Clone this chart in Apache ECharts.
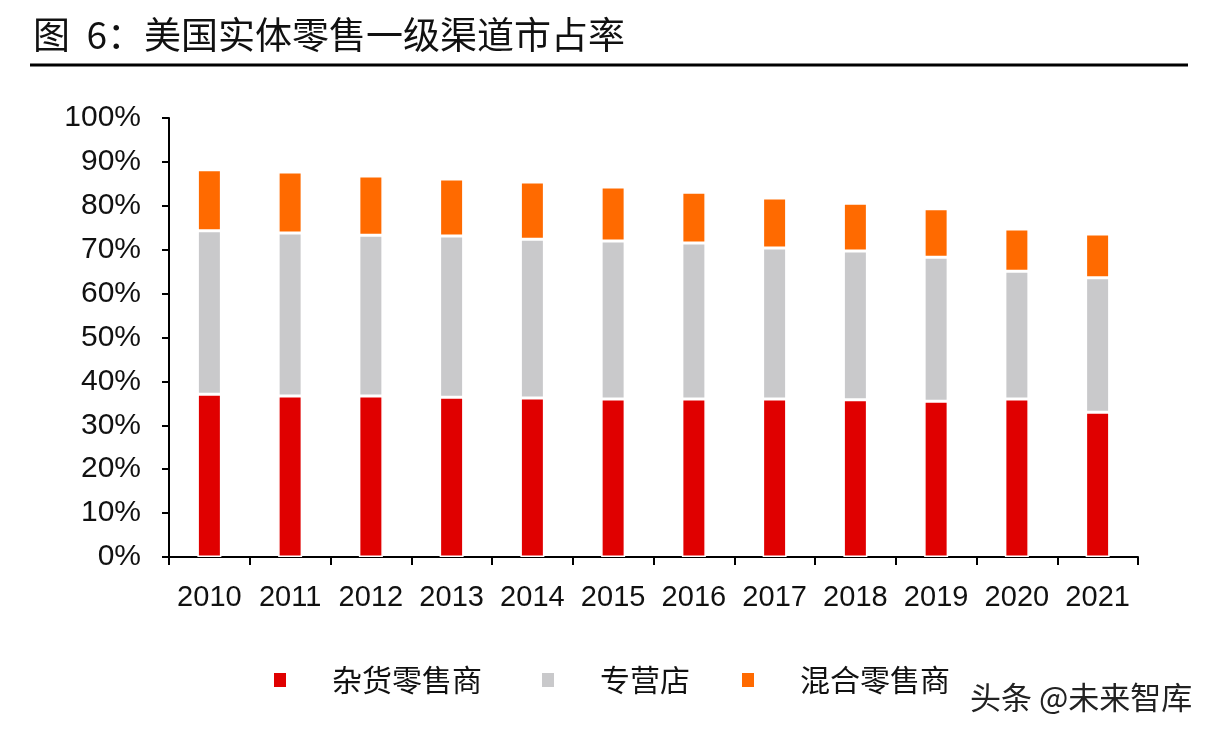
<!DOCTYPE html>
<html>
<head>
<meta charset="utf-8">
<script src="https://cdn.jsdelivr.net/npm/echarts@6/dist/echarts.min.js"></script>
<style>html,body{margin:0;padding:0;background:#fff;}#c{width:1218px;height:738px;}</style>
</head>
<body>
<div id="c"></div>
<script>
const years = ['2010','2011','2012','2013','2014','2015','2016','2017','2018','2019','2020','2021'];
const grocery = [37.1, 36.7, 36.7, 36.4, 36.2, 36.0, 36.0, 36.0, 35.8, 35.5, 36.0, 33.0];
const specialty = [37.2, 37.1, 36.6, 36.7, 36.2, 36.0, 35.5, 34.4, 33.9, 32.8, 29.1, 30.6];
const mixed = [13.9, 13.9, 13.5, 13.0, 13.0, 12.3, 11.6, 11.4, 10.9, 11.0, 9.6, 10.0];
const names = ['杂货零售商', '专营店', '混合零售商'];
const colors = ['#E00000', '#C9C9CB', '#FF6A00'];

const latin = '"Liberation Sans", Arial, "Noto Sans CJK SC", sans-serif';
const cjk = '"Noto Sans CJK SC", "Liberation Sans", sans-serif';

const chart = echarts.init(document.getElementById('c'));
function legendFor(i, left) {
  return {
    data: [names[i]], left: left, top: 660, icon: 'rect',
    itemWidth: 14, itemHeight: 16, itemGap: 0,
    textStyle: { fontFamily: cjk, fontSize: 30, color: '#111', padding: [0, 0, 0, 40] }
  };
}
chart.setOption({
  animation: false,
  backgroundColor: '#fff',
  grid: { left: 169, right: 80, top: 118, bottom: 181 },
  legend: [legendFor(0, 267), legendFor(1, 535), legendFor(2, 735)],
  xAxis: {
    type: 'category', data: years, boundaryGap: true,
    axisLine: { lineStyle: { color: '#000', width: 2 } },
    axisTick: { show: true, interval: 0, alignWithLabel: false, length: 8, inside: false, lineStyle: { color: '#000', width: 2 } },
    axisLabel: { interval: 0, hideOverlap: false, fontFamily: latin, fontSize: 29, color: '#111', margin: 26 }
  },
  yAxis: {
    type: 'value', min: 0, max: 100, interval: 10,
    axisLine: { show: true, lineStyle: { color: '#000', width: 2 } },
    axisTick: { show: true, length: 7, lineStyle: { color: '#000', width: 2 } },
    splitLine: { show: false },
    axisLabel: { fontFamily: latin, fontSize: 30, color: '#111', margin: 28, formatter: '{value}%' }
  },
  series: [grocery, specialty, mixed].map((d, i) => ({
    name: names[i], type: 'bar', stack: 'total', data: d, barWidth: 24,
    itemStyle: { color: colors[i], borderColor: '#fff', borderWidth: 1.5 }
  })),
  graphic: [
    { type: 'text', left: 33, top: 16, style: { text: '图  6：美国实体零售一级渠道市占率', font: '37px ' + cjk, fill: '#111' } },
    { type: 'line', shape: { x1: 30, y1: 65, x2: 1188, y2: 65 }, style: { stroke: '#000', lineWidth: 3 } },
    { type: 'text', left: 970, top: 682, style: { text: '头条 @未来智库', font: '31px ' + cjk, fill: '#222' } }
  ]
});
</script>
</body>
</html>
